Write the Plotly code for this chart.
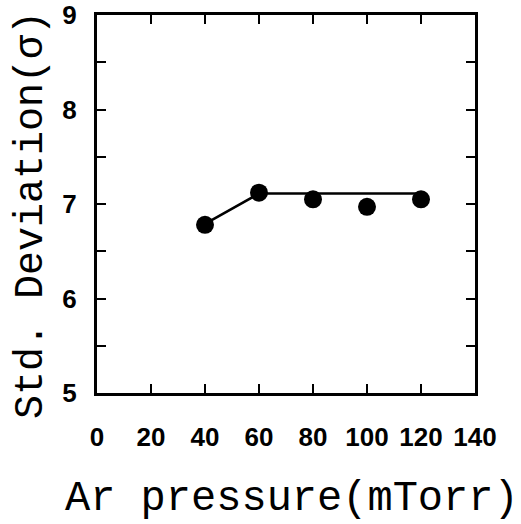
import plotly.graph_objects as go

pressure = [40, 60, 80, 100, 120]
std_dev = [6.78, 7.12, 7.05, 6.97, 7.05]

fit_x = [40, 60, 120]
fit_y = [6.79, 7.11, 7.11]

x_ticks = [0, 20, 40, 60, 80, 100, 120, 140]
x_labels = ["0", "20", "40", "60", "80", "100", "120", "140"]
y_ticks = [5, 5.5, 6, 6.5, 7, 7.5, 8, 8.5, 9]
y_labels = ["5", "", "6", "", "7", "", "8", "", "9"]

x_title = "Ar pressure(mTorr)"
y_title = "Std. Deviation(σ)"

fig = go.Figure()
fig.add_trace(go.Scatter(x=fit_x, y=fit_y, mode="lines",
                         line=dict(color="black", width=2.5), showlegend=False))
fig.add_trace(go.Scatter(x=pressure, y=std_dev, mode="markers",
                         marker=dict(color="black", size=18), showlegend=False))

tickfont = dict(family="Liberation Sans", size=26, color="black", weight="bold")

fig.update_layout(
    width=521, height=524,
    margin=dict(l=97, r=46, t=15, b=131),
    paper_bgcolor="white", plot_bgcolor="white",
    xaxis=dict(range=[0, 140], tickvals=x_ticks, ticktext=x_labels,
               ticks="inside", ticklen=9, tickwidth=2, tickcolor="black",
               showline=True, linecolor="black", linewidth=3, mirror="ticks",
               showgrid=False, zeroline=False, tickfont=tickfont,
               ticklabelstandoff=19, automargin=False),
    yaxis=dict(range=[5, 9], tickvals=y_ticks, ticktext=y_labels,
               ticks="inside", ticklen=9, tickwidth=2, tickcolor="black",
               showline=True, linecolor="black", linewidth=3, mirror="ticks",
               showgrid=False, zeroline=False, tickfont=tickfont,
               ticklabelstandoff=12, automargin=False),
    annotations=[
        dict(text=x_title, xref="paper", yref="paper", x=0.516, y=-0.28,
             xanchor="center", yanchor="middle", showarrow=False,
             font=dict(family="Liberation Mono", size=42, color="black")),
        dict(text=y_title, xref="paper", yref="paper", x=-0.172, y=0.471,
             xanchor="center", yanchor="middle", showarrow=False, textangle=-90,
             font=dict(family="Liberation Mono", size=40, color="black")),
    ],
)

fig.write_html("out.html", config={"displayModeBar": False},
               post_script="document.body.style.margin='0';")
